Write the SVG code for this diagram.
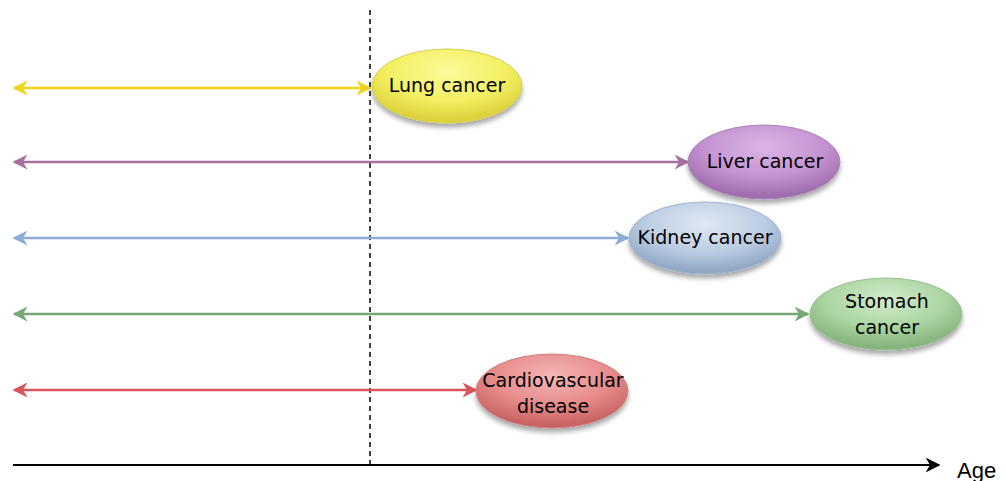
<svg xmlns="http://www.w3.org/2000/svg" width="1006" height="481" viewBox="0 0 1006 481">
  <style>
    .lbl { font-family: "DejaVu Sans", Verdana, sans-serif; font-size: 19px; fill: #000; text-anchor: middle; }
    .node ellipse.body { stroke-width: 1; }
    .conn line { stroke-width: 2.5; fill: none; }
  </style>
  <defs>
    <filter id="shadow" x="-20%" y="-20%" width="140%" height="160%">
      <feGaussianBlur in="SourceAlpha" stdDeviation="2.5"/>
      <feOffset dx="0" dy="4" result="b"/>
      <feComponentTransfer><feFuncA type="linear" slope="0.35"/></feComponentTransfer>
      <feMerge><feMergeNode/><feMergeNode in="SourceGraphic"/></feMerge>
    </filter>
    <radialGradient id="gY" cx="50%" cy="30%" r="65%"><stop offset="0" stop-color="#fbfa9a"/><stop offset="0.6" stop-color="#f3f062"/><stop offset="1" stop-color="#dcd23c"/></radialGradient>
    <radialGradient id="gP" cx="50%" cy="30%" r="65%"><stop offset="0" stop-color="#dbb6e6"/><stop offset="0.6" stop-color="#c592d2"/><stop offset="1" stop-color="#a06eae"/></radialGradient>
    <radialGradient id="gB" cx="50%" cy="30%" r="65%"><stop offset="0" stop-color="#dfe8f3"/><stop offset="0.6" stop-color="#bccde3"/><stop offset="1" stop-color="#92a9c6"/></radialGradient>
    <radialGradient id="gG" cx="50%" cy="30%" r="65%"><stop offset="0" stop-color="#d2ebcc"/><stop offset="0.6" stop-color="#abd5a2"/><stop offset="1" stop-color="#86b37e"/></radialGradient>
    <radialGradient id="gR" cx="50%" cy="30%" r="65%"><stop offset="0" stop-color="#f4b6b6"/><stop offset="0.6" stop-color="#e78b8b"/><stop offset="1" stop-color="#c96464"/></radialGradient>
    <marker id="aY" viewBox="0 0 10 10" refX="9" refY="5" markerWidth="6" markerHeight="6" orient="auto-start-reverse" markerUnits="strokeWidth"><path d="M0,0 L10,5 L0,10 L3,5 Z" fill="#eed51c"/></marker>
    <marker id="aP" viewBox="0 0 10 10" refX="9" refY="5" markerWidth="6" markerHeight="6" orient="auto-start-reverse" markerUnits="strokeWidth"><path d="M0,0 L10,5 L0,10 L3,5 Z" fill="#a8709f"/></marker>
    <marker id="aB" viewBox="0 0 10 10" refX="9" refY="5" markerWidth="6" markerHeight="6" orient="auto-start-reverse" markerUnits="strokeWidth"><path d="M0,0 L10,5 L0,10 L3,5 Z" fill="#8eadd6"/></marker>
    <marker id="aG" viewBox="0 0 10 10" refX="9" refY="5" markerWidth="6" markerHeight="6" orient="auto-start-reverse" markerUnits="strokeWidth"><path d="M0,0 L10,5 L0,10 L3,5 Z" fill="#76a876"/></marker>
    <marker id="aR" viewBox="0 0 10 10" refX="9" refY="5" markerWidth="6" markerHeight="6" orient="auto-start-reverse" markerUnits="strokeWidth"><path d="M0,0 L10,5 L0,10 L3,5 Z" fill="#d9545a"/></marker>
    <marker id="aK" viewBox="0 0 10 10" refX="9" refY="5" markerWidth="7.5" markerHeight="7.5" orient="auto" markerUnits="strokeWidth"><path d="M0,0 L10,5 L0,10 L3,5 Z" fill="#000"/></marker>
  </defs>

  <!-- reference line and age axis -->
  <line x1="370" y1="10" x2="370" y2="466" stroke="#000" stroke-width="1.5" stroke-dasharray="5,4"/>
  <line x1="13" y1="465" x2="939" y2="465" stroke="#000" stroke-width="2" marker-end="url(#aK)"/>
  <text x="957" y="478" font-family="Liberation Sans, Arial, sans-serif" font-size="22" fill="#000">Age</text>

  <!-- double-headed range arrows -->
  <g id="connectors" class="conn">
    <line x1="14" y1="88" x2="370" y2="88" stroke="#eed51c" marker-start="url(#aY)" marker-end="url(#aY)"/>
    <line x1="14" y1="162" x2="688" y2="162" stroke="#a8709f" marker-start="url(#aP)" marker-end="url(#aP)"/>
    <line x1="14" y1="238" x2="628" y2="238" stroke="#8eadd6" marker-start="url(#aB)" marker-end="url(#aB)"/>
    <line x1="14" y1="314" x2="808" y2="314" stroke="#76a876" marker-start="url(#aG)" marker-end="url(#aG)"/>
    <line x1="14" y1="390" x2="476" y2="390" stroke="#d9545a" marker-start="url(#aR)" marker-end="url(#aR)"/>
  </g>

  <g id="lung" class="node">
    <ellipse class="body" cx="447" cy="86" rx="75" ry="37" fill="url(#gY)" stroke="#d6cf50" filter="url(#shadow)"/>
    <text class="lbl" x="447" y="92">Lung cancer</text>
  </g>
  <g id="liver" class="node">
    <ellipse class="body" cx="764" cy="162" rx="76" ry="37" fill="url(#gP)" stroke="#a984b3" filter="url(#shadow)"/>
    <text class="lbl" x="765" y="168">Liver cancer</text>
  </g>
  <g id="kidney" class="node">
    <ellipse class="body" cx="705" cy="238" rx="76" ry="36" fill="url(#gB)" stroke="#9fb3cc" filter="url(#shadow)"/>
    <text class="lbl" x="705" y="244">Kidney cancer</text>
  </g>
  <g id="stomach" class="node">
    <ellipse class="body" cx="886" cy="314" rx="76" ry="36" fill="url(#gG)" stroke="#98c08f" filter="url(#shadow)"/>
    <text class="lbl" x="887" y="308">Stomach</text>
    <text class="lbl" x="887" y="334">cancer</text>
  </g>
  <g id="cardio" class="node">
    <ellipse class="body" cx="552" cy="391" rx="76" ry="37" fill="url(#gR)" stroke="#cf7f7f" filter="url(#shadow)"/>
    <text class="lbl" x="553" y="387">Cardiovascular</text>
    <text class="lbl" x="553" y="413">disease</text>
  </g>
</svg>
